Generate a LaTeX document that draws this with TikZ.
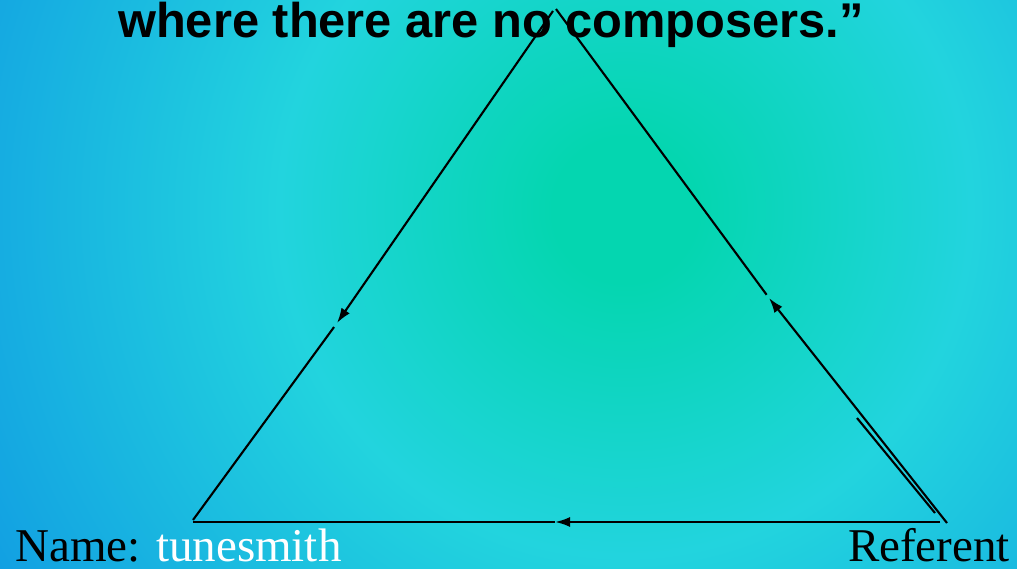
\documentclass[tikz,border=0pt]{standalone}
\usepackage{xcolor}
\usepackage{fontspec}
\setmainfont{Liberation Serif}
\newfontfamily\titlefont{Liberation Sans}
\usetikzlibrary{arrows.meta,positioning,calc}

\definecolor{glowgreen}{RGB}{4,214,176}
\definecolor{glowcyan}{RGB}{34,212,222}
\definecolor{glowblue}{RGB}{18,160,226}
\pgfdeclareradialshading{bgglow}{\pgfpoint{0bp}{0bp}}{color(0bp)=(glowgreen); color(5bp)=(glowgreen); color(24bp)=(glowcyan); color(50bp)=(glowblue)}

\begin{document}
\begin{tikzpicture}[x=1pt, y=-1pt, >={Latex[length=15pt,width=10pt]},
    every node/.style={inner sep=0pt},
    edge/.style={line width=2.1pt},
    corner/.style={font=\fontsize{47}{56}\selectfont}]
        \useasboundingbox (0,0) rectangle (1017,569);

        % Background glow
        \fill[glowblue] (0,0) rectangle (1017,569);
        \begin{scope}
            \clip (0,0) rectangle (1017,569);
            \node[scale=14.35] (glow) at (625,210) {\pgfuseshading{bgglow}};
        \end{scope}

        % Quote line
        \node[anchor=base west, font=\titlefont\bfseries\fontsize{48.8}{58}\selectfont] (quote) at (118,38) {where there are no composers.”};

        % Triangle corners
        \coordinate (topL) at (553,11);
        \coordinate (topR) at (556,9);
        \coordinate (nameC) at (193,520);
        \coordinate (nameB) at (193,522);
        \coordinate (refC) at (947,523);
        \coordinate (refB) at (940,522);
        \coordinate (leftTip) at (337,323);
        \coordinate (rightTip) at (769,298);
        \coordinate (botTip) at (555,522);
        \coordinate (dblA) at (857,418);
        \coordinate (dblB) at (935,513);

        % Edges with arrows
        \draw[edge, ->] (topL) -- (leftTip);
        \draw[edge] ($(leftTip)!5pt!(nameC)$) -- (nameC);
        \draw[edge, ->] (refC) -- (rightTip);
        \draw[edge] ($(rightTip)!4pt!(topR)$) -- (topR);
        \draw[edge] (dblA) -- (dblB);
        \draw[edge, ->] (refB) -- (botTip);
        \draw[edge] (botTip) -- (nameB);

        % Labels
        \node[corner, anchor=base west] (name) at (15,561) {Name: \textcolor{white}{tunesmith}};
        \node[corner, anchor=base east] (referent) at (1010,561) {Referent};
    \end{tikzpicture}
\end{document}
